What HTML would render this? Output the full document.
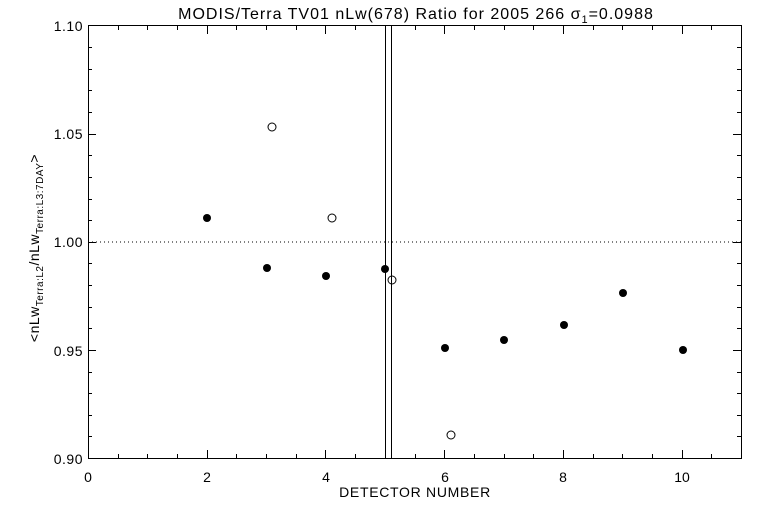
<!DOCTYPE html>
<html><head><style>body{margin:0;background:#fff}svg{display:block}text{font-family:"Liberation Sans",sans-serif;fill:#000}</style></head><body>
<svg width="768" height="512" viewBox="0 0 768 512" xmlns="http://www.w3.org/2000/svg">
<rect width="768" height="512" fill="#fff"/>
<text x="416" y="19" font-size="16" letter-spacing="1" text-anchor="middle">MODIS/Terra TV01 nLw(678) Ratio for 2005 266 σ<tspan font-size="11" dy="4">1</tspan><tspan dy="-4">=0.0988</tspan></text>
<rect x="88.5" y="25.5" width="653" height="433" fill="none" stroke="#000" stroke-width="1"/>
<g id="xt" stroke="#000"></g>
<g id="yt" stroke="#000"></g>
<line x1="88" y1="242" x2="741" y2="242" stroke="#000" stroke-dasharray="1,3"/>
<line x1="385.5" y1="26" x2="385.5" y2="458" stroke="#000"/>
<line x1="391.5" y1="26" x2="391.5" y2="458" stroke="#000"/>
<g fill="#000">
<circle cx="207" cy="218" r="4"/><circle cx="267" cy="268" r="4"/><circle cx="326" cy="276" r="4"/><circle cx="385" cy="269" r="4"/><circle cx="445" cy="348" r="4"/><circle cx="504" cy="340" r="4"/><circle cx="564" cy="325" r="4"/><circle cx="623" cy="293" r="4"/><circle cx="683" cy="350" r="4"/>
</g>
<g fill="none" stroke="#000">
<circle cx="272" cy="127" r="4"/><circle cx="332" cy="218" r="4"/><circle cx="392" cy="280" r="4"/><circle cx="451" cy="435" r="4"/>
</g>
<g font-size="14" text-anchor="end" letter-spacing="0.5">
<text x="83" y="31">1.10</text><text x="83" y="139">1.05</text><text x="83" y="247">1.00</text><text x="83" y="356">0.95</text><text x="83" y="464">0.90</text>
</g>
<g font-size="14" text-anchor="middle">
<text x="88" y="482">0</text><text x="207" y="482">2</text><text x="326" y="482">4</text><text x="445" y="482">6</text><text x="563" y="482">8</text><text x="682" y="482">10</text>
<text x="415" y="497" letter-spacing="0.7">DETECTOR NUMBER</text>
</g>
<text transform="translate(39,248) rotate(-90)" font-size="14" text-anchor="middle" letter-spacing="0.5">&lt;nLw<tspan font-size="10" dy="4">Terra:L2</tspan><tspan dy="-4">/nLw</tspan><tspan font-size="10" dy="4">Terra:L3:7DAY</tspan><tspan dy="-4">&gt;</tspan></text>
<script>
var ns="http://www.w3.org/2000/svg",xt=document.getElementById('xt'),yt=document.getElementById('yt');
function ln(g,a,b,c,d){var l=document.createElementNS(ns,'line');l.setAttribute('x1',a);l.setAttribute('y1',b);l.setAttribute('x2',c);l.setAttribute('y2',d);g.appendChild(l);}
for(var i=1;i<22;i++){var x=Math.round(88+i*653/22)+0.5,L=(i%4==0)?8:4;ln(xt,x,458,x,458-L);ln(xt,x,26,x,26+L);}
for(var j=1;j<20;j++){var y=Math.round(458-j*432.5/20)+0.5,L=(j%5==0)?8:4;ln(yt,88,y,88+L,y);ln(yt,741,y,741-L,y);}
</script>
</svg>
</body></html>
